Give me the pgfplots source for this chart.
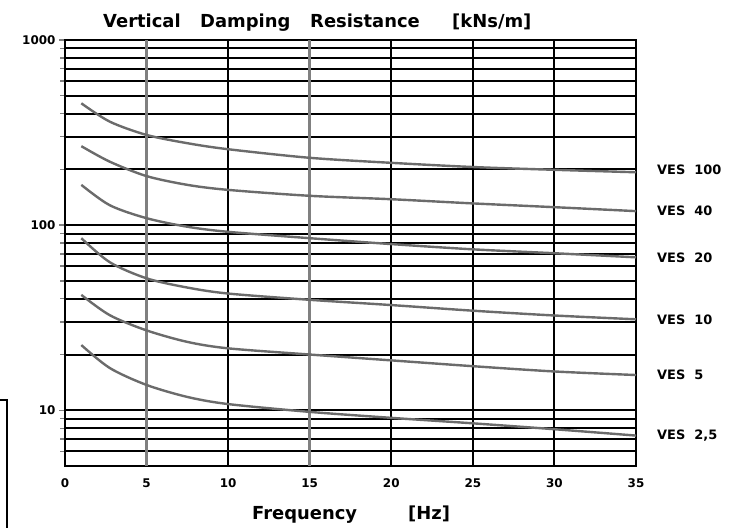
\documentclass[border=0pt]{standalone}
\usepackage{pgfplots}
\pgfplotsset{compat=1.18}
\usepackage{fontspec}
\setmainfont{DejaVu Sans}
\begin{document}
\begin{tikzpicture}[x=1bp,y=1bp]
\useasboundingbox (0,0) rectangle (740,528);
\begin{axis}[
  at={(65bp,62bp)}, anchor=south west,
  scale only axis, width=571bp, height=426bp,
  xmin=0, xmax=35, ymin=5, ymax=1000,
  ymode=log,
  log basis y=10,
  xtick={0,10,20,25,30,35},
  extra x ticks={5,15},
  extra x tick style={grid=major, major grid style={draw=black!50, line width=3bp}},
  ytick={10,100,1000},
  yticklabels={10,100,1000},
  minor ytick={6,7,8,9,20,30,40,50,60,70,80,90,200,300,400,500,600,700,800,900},
  xmajorgrids, ymajorgrids, yminorgrids,
  major grid style={draw=black, line width=2bp},
  minor grid style={draw=black, line width=2bp},
  axis line style={line width=2.6bp},
  ytick pos=left, xtick pos=bottom,
  tick align=outside,
  xtick style={draw=none},
  ytick style={line width=1.4bp},
  major tick length=6bp, minor tick length=5bp,
  /pgf/number format/assume math mode=true,
  ticklabel style={font=\fontsize{12}{13}\selectfont\bfseries},
  xticklabel style={yshift=-3bp},
  clip=false,
]
\addplot[black!58, line width=2.4bp, smooth] coordinates {(1,455) (2.75,362) (5,307) (7.5,277) (10,257) (15,231) (20,217) (25,206) (30,199) (35,193)};
\addplot[black!58, line width=2.4bp, smooth] coordinates {(1,267) (2.75,220) (5,184) (7.5,165) (10,155) (15,144) (20,138) (25,131) (30,125) (35,119)};
\addplot[black!58, line width=2.4bp, smooth] coordinates {(1,165) (2.75,128) (5,109) (7.5,98) (10,92) (15,85) (20,79) (25,74) (30,70.5) (35,67)};
\addplot[black!58, line width=2.4bp, smooth] coordinates {(1,85) (2.75,63) (5,51.6) (7.5,46) (10,42.7) (15,39.5) (20,37) (25,34.5) (30,32.5) (35,31)};
\addplot[black!58, line width=2.4bp, smooth] coordinates {(1,42) (2.75,32.6) (5,27) (7.5,23.4) (10,21.6) (15,20) (20,18.6) (25,17.3) (30,16.2) (35,15.5)};
\addplot[black!58, line width=2.4bp, smooth] coordinates {(1,22.5) (2.75,16.9) (5,13.7) (7.5,11.8) (10,10.8) (15,9.8) (20,9.1) (25,8.5) (30,7.9) (35,7.3)};
\foreach \v/\t in {200/{VES\ \ 100},119/{VES\ \ 40},67/{VES\ \ 20},31/{VES\ \ 10},15.6/{VES\ \ 5},7.3/{VES\ \ 2,5}}{
  \edef\tmp{\noexpand\node[anchor=west, font=\noexpand\fontsize{13}{15}\noexpand\selectfont\noexpand\bfseries, inner sep=0pt] at (axis cs:35,\v) [xshift=21bp] {\t};}
  \tmp
}
\end{axis}
\begin{scope}[every node/.style={font=\fontsize{18}{20}\selectfont\bfseries, inner sep=0pt, anchor=base west}]
\node at (103,500) {Vertical};
\node at (200,500) {Damping};
\node at (310,500) {Resistance};
\node at (452,500) {[kNs/m]};
\node at (252,8) {Frequency};
\node at (408,8) {[Hz]};
\end{scope}
\draw[line width=1.3bp] (0,128) -- (7,128) -- (7,0);
\end{tikzpicture}
\end{document}
